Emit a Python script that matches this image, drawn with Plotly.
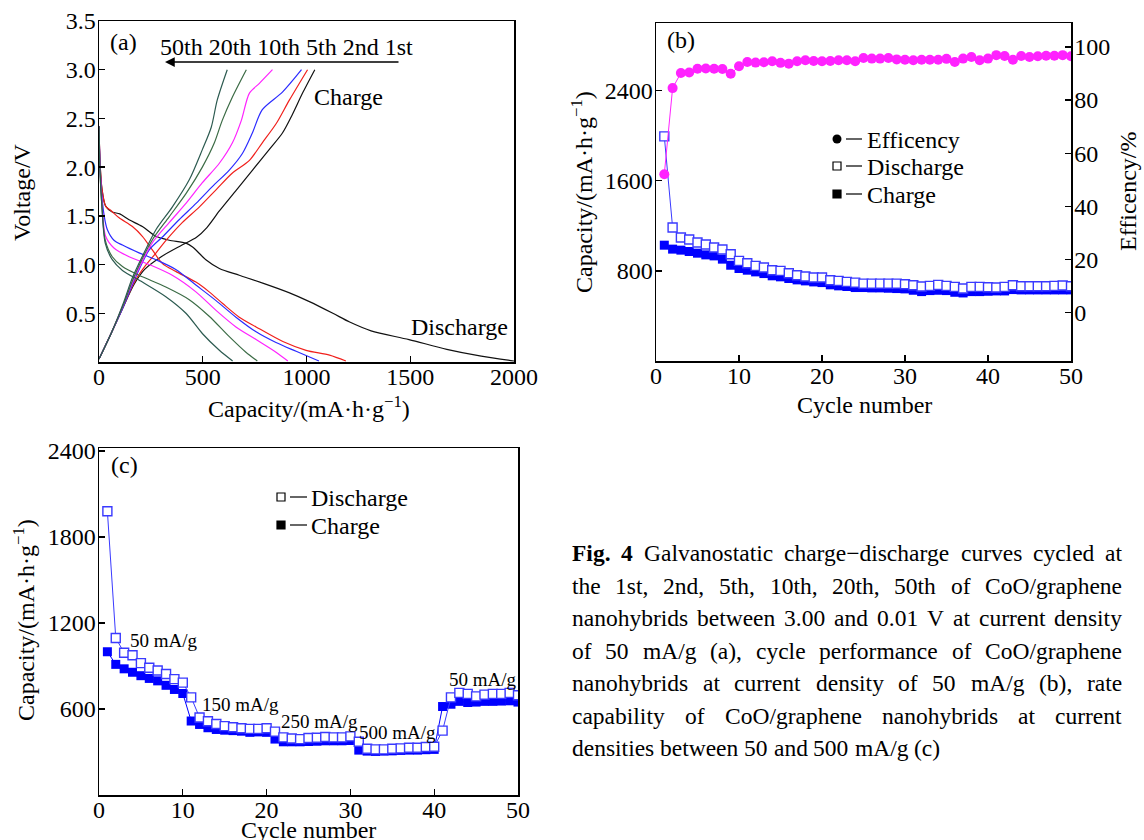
import plotly.graph_objects as go

W, H = 1144, 840
FONT = "Liberation Serif, Times New Roman, serif"


def px(x):
    return x / W


def py(y):
    return 1 - y / H


# ---------------- Panel (a) data: galvanostatic curves ----------------
cycle_labels = ["1st", "2nd", "5th", "10th", "20th", "50th"]
cycle_colors = ["#111111", "#f0201c", "#2a2aff", "#ff22ff", "#3b6b45", "#2c5a50"]

dis_cap = [
    [0, 5, 14, 32, 64, 100, 145, 209, 274, 338, 419, 451, 515, 580, 676, 789, 918, 1014, 1127, 1208, 1311, 1494, 1676, 1842, 2000],
    [0, 5, 14, 32, 60, 97, 161, 209, 257, 306, 370, 467, 531, 596, 676, 757, 886, 998, 1111, 1190],
    [0, 5, 14, 25, 40, 72, 113, 193, 274, 370, 467, 564, 660, 757, 853, 950, 1060],
    [0, 5, 14, 32, 72, 145, 242, 353, 467, 564, 660, 757, 853, 910],
    [0, 5, 14, 30, 64, 113, 193, 322, 435, 531, 628, 708, 763],
    [0, 5, 14, 30, 64, 113, 209, 322, 419, 499, 580, 644],
]
dis_volt = [
    [2.42, 2.05, 1.78, 1.60, 1.54, 1.52, 1.46, 1.39, 1.29, 1.25, 1.22, 1.18, 1.05, 0.96, 0.89, 0.81, 0.71, 0.62, 0.50, 0.41, 0.32, 0.23, 0.13, 0.06, 0.01],
    [2.42, 2.05, 1.78, 1.60, 1.55, 1.48, 1.39, 1.29, 1.15, 1.01, 0.93, 0.82, 0.72, 0.60, 0.46, 0.36, 0.21, 0.12, 0.07, 0.01],
    [2.42, 2.00, 1.70, 1.50, 1.36, 1.25, 1.20, 1.12, 1.05, 0.95, 0.79, 0.63, 0.46, 0.31, 0.20, 0.11, 0.01],
    [2.42, 2.00, 1.65, 1.29, 1.17, 1.08, 1.00, 0.89, 0.72, 0.53, 0.36, 0.23, 0.10, 0.01],
    [2.42, 1.95, 1.60, 1.25, 1.08, 0.98, 0.89, 0.77, 0.64, 0.47, 0.26, 0.10, 0.01],
    [2.42, 1.95, 1.60, 1.22, 1.05, 0.94, 0.82, 0.67, 0.50, 0.29, 0.12, 0.01],
]
chg_cap = [
    [0, 60, 120, 170, 220, 300, 400, 470, 520, 580, 660, 740, 820, 884, 932, 981, 1040],
    [0, 60, 120, 170, 220, 275, 324, 401, 483, 565, 643, 725, 787, 855, 918, 1005],
    [0, 60, 120, 170, 242, 304, 386, 469, 546, 628, 691, 739, 787, 884, 976],
    [0, 60, 120, 170, 256, 338, 420, 498, 580, 643, 686, 725, 773, 836],
    [0, 60, 120, 170, 256, 338, 420, 498, 556, 594, 643, 710],
    [0, 60, 120, 160, 208, 275, 353, 435, 498, 541, 570, 618],
]
chg_volt = [
    [0.03, 0.30, 0.58, 0.80, 0.95, 1.08, 1.20, 1.28, 1.38, 1.55, 1.76, 1.97, 2.18, 2.35, 2.54, 2.76, 3.00],
    [0.03, 0.30, 0.58, 0.82, 0.98, 1.12, 1.25, 1.43, 1.59, 1.77, 1.94, 2.07, 2.25, 2.45, 2.69, 3.00],
    [0.03, 0.30, 0.58, 0.84, 1.15, 1.28, 1.46, 1.63, 1.80, 1.97, 2.14, 2.35, 2.59, 2.77, 3.00],
    [0.03, 0.30, 0.60, 0.86, 1.22, 1.43, 1.63, 1.84, 2.04, 2.25, 2.48, 2.76, 2.86, 3.00],
    [0.03, 0.30, 0.60, 0.88, 1.25, 1.49, 1.73, 2.00, 2.25, 2.48, 2.72, 3.00],
    [0.03, 0.30, 0.62, 0.86, 1.08, 1.36, 1.59, 1.87, 2.18, 2.41, 2.69, 3.00],
]

# ---------------- Panel (b) data: cycle performance ----------------
cycles_b = list(range(1, 51))
discharge_b = [1994, 1185, 1096, 1078, 1052, 1034, 1007, 990, 948, 889,
               868, 844, 830, 806, 800, 779, 761, 750, 741, 741,
               717, 711, 702, 696, 687, 687, 687, 687, 687, 681,
               673, 661, 667, 676, 667, 658, 643, 658, 658, 655,
               652, 658, 673, 664, 664, 664, 664, 667, 670, 664]
charge_b = [1028, 993, 984, 972, 957, 942, 933, 904, 850, 821,
            806, 791, 776, 756, 747, 732, 720, 711, 702, 696,
            676, 667, 661, 652, 652, 649, 649, 646, 643, 640,
            628, 616, 625, 628, 625, 610, 604, 616, 616, 619,
            622, 622, 634, 631, 631, 631, 631, 631, 631, 631]
efficiency_b = [52.1, 84.5, 90.2, 90.4, 91.8, 91.9, 91.8, 91.7, 89.9, 92.7,
                94.3, 94.1, 94.2, 94.6, 94.0, 93.7, 94.6, 95.0, 94.7, 94.6,
                94.7, 95.0, 95.0, 94.6, 95.8, 95.6, 95.6, 95.8, 95.3, 95.2,
                95.0, 95.2, 95.2, 95.2, 95.5, 94.3, 95.6, 96.2, 95.0, 95.6,
                96.9, 96.6, 95.2, 96.6, 96.2, 96.5, 96.7, 96.7, 96.9, 96.5]

# ---------------- Panel (c) data: rate capability ----------------
cycles_c = list(range(1, 51))
discharge_c = [1979, 1095, 992, 975, 920, 887, 868, 844, 808, 784,
               681, 540, 514, 495, 480, 473, 466, 461, 461, 466,
               442, 402, 394, 390, 397, 399, 404, 402, 402, 409,
               371, 323, 318, 318, 323, 325, 330, 330, 335, 337,
               449, 681, 712, 705, 688, 700, 705, 705, 712, 696]
charge_c = [999, 911, 880, 856, 832, 813, 796, 765, 736, 708,
            516, 492, 469, 457, 452, 449, 445, 437, 440, 437,
            390, 371, 371, 371, 373, 375, 378, 378, 378, 380,
            313, 306, 304, 306, 308, 311, 313, 313, 316, 318,
            617, 633, 653, 645, 648, 653, 653, 655, 657, 648]
rate_labels = ["50 mA/g", "150 mA/g", "250 mA/g", "500 mA/g", "50 mA/g"]

# ---------------- Tick labels ----------------
a_xticks = [0, 500, 1000, 1500, 2000]
a_yticks = [0.5, 1.0, 1.5, 2.0, 2.5, 3.0, 3.5]
b_xticks = [0, 10, 20, 30, 40, 50]
b_yticks = [800, 1600, 2400]
b_y2ticks = [0, 20, 40, 60, 80, 100]
c_yticks = [600, 1200, 1800, 2400]

caption_lines = [
    "Fig. 4 Galvanostatic charge\u2212discharge curves cycled at",
    "the 1st, 2nd, 5th, 10th, 20th, 50th of CoO/graphene",
    "nanohybrids between 3.00 and 0.01 V at current density",
    "of 50 mA/g (a), cycle performance of CoO/graphene",
    "nanohybrids at current density of 50 mA/g (b), rate",
    "capability of CoO/graphene nanohybrids at current",
    "densities between 50 and 500 mA/g (c)",
]

fig = go.Figure()

# Panel (a)
for i in range(len(cycle_labels)):
    fig.add_trace(go.Scatter(x=dis_cap[i], y=dis_volt[i], mode="lines", xaxis="x", yaxis="y",
                             line=dict(color=cycle_colors[i], width=1.2, shape="spline", smoothing=0.8),
                             showlegend=False, name=cycle_labels[i] + " discharge"))
    fig.add_trace(go.Scatter(x=chg_cap[i], y=chg_volt[i], mode="lines", xaxis="x", yaxis="y",
                             line=dict(color=cycle_colors[i], width=1.2, shape="spline", smoothing=0.8),
                             showlegend=False, name=cycle_labels[i] + " charge"))

# Panel (b)
fig.add_trace(go.Scatter(x=cycles_b, y=charge_b, mode="lines+markers", xaxis="x2", yaxis="y2",
                         line=dict(color="#0000ff", width=1),
                         marker=dict(symbol="square", size=9, color="#0000ff", line=dict(width=0)),
                         showlegend=False, name="Charge"))
fig.add_trace(go.Scatter(x=cycles_b, y=discharge_b, mode="lines+markers", xaxis="x2", yaxis="y2",
                         line=dict(color="#3a3aff", width=1),
                         marker=dict(symbol="square", size=9, color="white", line=dict(color="#3a3aff", width=1.4)),
                         showlegend=False, name="Discharge"))
fig.add_trace(go.Scatter(x=cycles_b, y=efficiency_b, mode="lines+markers", xaxis="x2", yaxis="y3",
                         line=dict(color="#ff22ff", width=1),
                         marker=dict(symbol="circle", size=10, color="#ff22ff", line=dict(width=0)),
                         showlegend=False, name="Efficency"))

# Panel (c)
fig.add_trace(go.Scatter(x=cycles_c, y=charge_c, mode="lines+markers", xaxis="x4", yaxis="y4",
                         line=dict(color="#0000ff", width=1),
                         marker=dict(symbol="square", size=9, color="#0000ff", line=dict(width=0)),
                         showlegend=False, name="Charge"))
fig.add_trace(go.Scatter(x=cycles_c, y=discharge_c, mode="lines+markers", xaxis="x4", yaxis="y4",
                         line=dict(color="#3a3aff", width=1),
                         marker=dict(symbol="square", size=9, color="white", line=dict(color="#3a3aff", width=1.4)),
                         showlegend=False, name="Discharge"))

tickfont = dict(family=FONT, size=24, color="black")
axis_common = dict(showline=True, linecolor="black", linewidth=1.5, ticks="inside", ticklen=6,
                   tickwidth=1.3, tickcolor="black", showgrid=False, zeroline=False,
                   tickfont=tickfont, automargin=False)
xcommon = dict(axis_common, ticklabelstandoff=-7)
ycommon = dict(axis_common, ticklabelstandoff=-3)

fig.update_layout(
    width=W, height=H, margin=dict(l=0, r=0, t=0, b=0),
    template="none", paper_bgcolor="white", plot_bgcolor="white",
    hovermode=False, showlegend=False,
    font=dict(family=FONT, size=24, color="black"),
    xaxis=dict(domain=[px(99), px(514)], range=[0, 2000], anchor="y", tickvals=a_xticks,
               ticktext=[str(v) for v in a_xticks], mirror=True, **xcommon),
    yaxis=dict(domain=[py(362), py(21)], range=[0, 3.5], anchor="x", tickvals=a_yticks,
               ticktext=["%.1f" % v for v in a_yticks], mirror=True, **ycommon),
    xaxis2=dict(domain=[px(656), px(1071)], range=[0, 50], anchor="y2", tickvals=b_xticks,
                ticktext=[str(v) for v in b_xticks], mirror=True, **xcommon),
    yaxis2=dict(domain=[py(361), py(23)], range=[0, 3000], anchor="x2", tickvals=b_yticks,
                ticktext=[str(v) for v in b_yticks], mirror=False, **ycommon),
    yaxis3=dict(range=[-18.2, 109.0], anchor="x2", overlaying="y2", side="right",
                tickvals=b_y2ticks, ticktext=[str(v) for v in b_y2ticks], mirror=False, **ycommon),
    xaxis4=dict(domain=[px(99), px(518)], range=[0, 50], anchor="y4", tickvals=b_xticks,
                ticktext=[str(v) for v in b_xticks], mirror=True, **xcommon),
    yaxis4=dict(domain=[py(795), py(448)], range=[0, 2420], anchor="x4", tickvals=c_yticks,
                ticktext=[str(v) for v in c_yticks], mirror=True, **ycommon),
)

ann = []
shapes = []


def text(x, y, s, size=24, xanchor="center", yanchor="middle", angle=0):
    ann.append(dict(x=px(x), y=py(y), xref="paper", yref="paper", text=s, showarrow=False,
                    xanchor=xanchor, yanchor=yanchor, textangle=angle, borderpad=0,
                    font=dict(family=FONT, size=size, color="black")))


cap_title = "Capacity/(mA\u00b7h\u00b7g<sup>\u22121</sup>)"

# Panel (a) texts
text(109, 42, "(a)", xanchor="left")
text(159, 47, "50th 20th 10th 5th 2nd 1st", xanchor="left")
ann.append(dict(x=px(165), y=py(62), xref="paper", yref="paper", text="", showarrow=True,
                ax=235, ay=0, arrowhead=2, arrowsize=1.3, arrowwidth=1.5, arrowcolor="black"))
text(313, 97, "Charge", xanchor="left")
text(410, 327, "Discharge", xanchor="left")
text(309, 407, cap_title)
text(22, 192, "Voltage/V", angle=-90)

# Panel (b) texts
text(666, 40, "(b)", xanchor="left")
text(582, 192, cap_title, angle=-90)
text(1128, 191, "Efficency/%", angle=-90)
text(864, 405, "Cycle number")
legend_b = [("Efficency", 139, "circle"), ("Discharge", 166, "open"), ("Charge", 194, "filled")]
for lab, yy, kind in legend_b:
    if kind == "circle":
        shapes.append(dict(type="circle", xref="paper", yref="paper", x0=px(832.5), x1=px(841.5),
                           y0=py(yy + 4.5), y1=py(yy - 4.5), fillcolor="black", line=dict(width=0)))
    else:
        shapes.append(dict(type="rect", xref="paper", yref="paper", x0=px(833), x1=px(841),
                           y0=py(yy + 4), y1=py(yy - 4),
                           fillcolor="black" if kind == "filled" else "white",
                           line=dict(color="black", width=1.2)))
    shapes.append(dict(type="line", xref="paper", yref="paper", x0=px(846), x1=px(862),
                       y0=py(yy), y1=py(yy), line=dict(color="black", width=1.2)))
    text(866, yy + 1, lab, xanchor="left")

# Panel (c) texts
text(110, 465, "(c)", xanchor="left")
text(24, 620, cap_title, angle=-90)
text(308, 830, "Cycle number")
legend_c = [("Discharge", 497, "open"), ("Charge", 525, "filled")]
for lab, yy, kind in legend_c:
    shapes.append(dict(type="rect", xref="paper", yref="paper", x0=px(277), x1=px(285),
                       y0=py(yy + 4), y1=py(yy - 4),
                       fillcolor="black" if kind == "filled" else "white",
                       line=dict(color="black", width=1.2)))
    shapes.append(dict(type="line", xref="paper", yref="paper", x0=px(290), x1=px(307),
                       y0=py(yy), y1=py(yy), line=dict(color="black", width=1.2)))
    text(310, yy + 1, lab, xanchor="left")
rate_pos = [(164, 640), (240, 704), (319, 721), (397, 732), (483, 679)]
for lab, (xx, yy) in zip(rate_labels, rate_pos):
    text(xx, yy, lab, size=19)

# Caption (justified, Times metrics)
TW = {' ': 250, 'a': 444, 'b': 500, 'c': 444, 'd': 500, 'e': 444, 'f': 333, 'g': 500, 'h': 500,
      'i': 278, 'j': 278, 'k': 500, 'l': 278, 'm': 778, 'n': 500, 'o': 500, 'p': 500, 'q': 500,
      'r': 333, 's': 389, 't': 278, 'u': 500, 'v': 500, 'w': 722, 'x': 500, 'y': 500, 'z': 444,
      'A': 722, 'C': 667, 'D': 722, 'F': 556, 'G': 722, 'O': 722, 'V': 722, '.': 250, ',': 250,
      '/': 278, '(': 333, ')': 333, '\u2212': 564}
TWB = {'F': 611, 'i': 278, 'g': 500, '.': 250, '4': 500}
CAP_SIZE = 23.5
CAP_X0, CAP_X1 = 572, 1122
CAP_Y0, CAP_DY = 553, 32.5


def wwidth(word, bold=False):
    tab = TWB if bold else TW
    return sum(tab.get(ch, 500) for ch in word) * CAP_SIZE / 1000


for li, line in enumerate(caption_lines):
    words = line.split(" ")
    bolds = [li == 0 and k < 2 for k in range(len(words))]
    widths = [wwidth(w, b) for w, b in zip(words, bolds)]
    yy = CAP_Y0 + li * CAP_DY
    if li < len(caption_lines) - 1:
        gap = (CAP_X1 - CAP_X0 - sum(widths)) / (len(words) - 1)
    else:
        gap = 250 * CAP_SIZE / 1000
    xx = CAP_X0
    for w, b, wd in zip(words, bolds, widths):
        ann.append(dict(x=px(xx), y=py(yy), xref="paper", yref="paper",
                        text=("<b>%s</b>" % w) if b else w, showarrow=False,
                        xanchor="left", yanchor="middle", borderpad=0, borderwidth=0,
                        font=dict(family=FONT, size=CAP_SIZE, color="black")))
        xx += wd + gap

fig.update_layout(annotations=ann, shapes=shapes)
fig.write_html("out.html",
               config={"displayModeBar": False, "staticPlot": True},
               post_script="document.body.style.margin='0px';document.body.style.padding='0px';"
                           "document.body.style.overflow='hidden';")
